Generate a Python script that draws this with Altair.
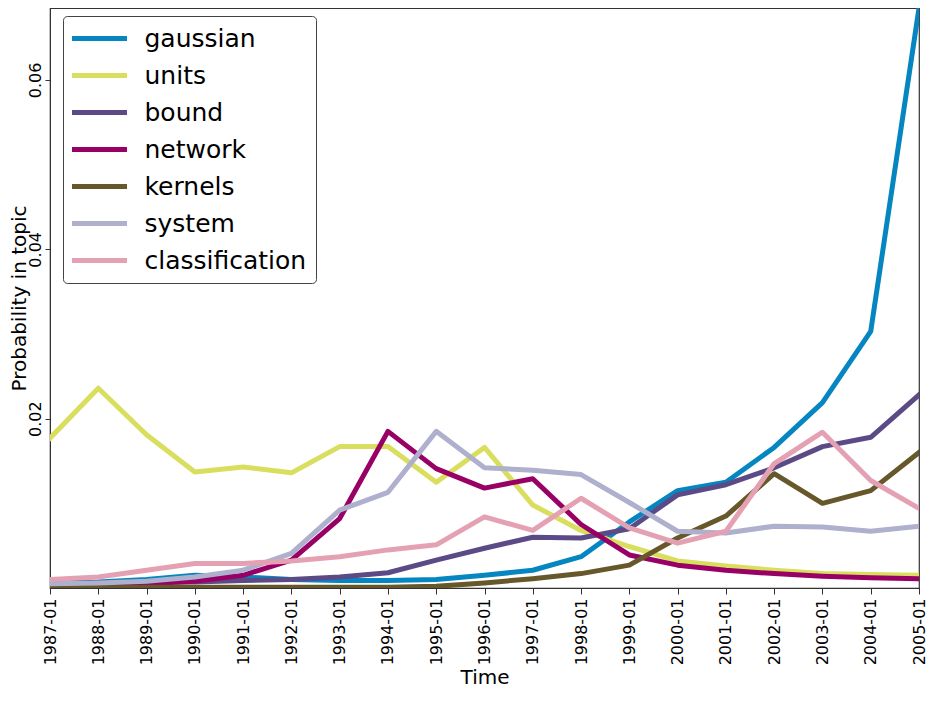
import altair as alt
import pandas as pd

years = ["1987-01", "1988-01", "1989-01", "1990-01", "1991-01", "1992-01", "1993-01",
         "1994-01", "1995-01", "1996-01", "1997-01", "1998-01", "1999-01", "2000-01",
         "2001-01", "2002-01", "2003-01", "2004-01", "2005-01"]

topics = ["gaussian", "units", "bound", "network", "kernels", "system", "classification"]
colors = ["#0586c1", "#d9de5e", "#5b4a85", "#990066", "#66582b", "#aeb0cd", "#e5a1b4"]

gaussian = [0.0006, 0.0007, 0.0010, 0.0015, 0.0013, 0.0010, 0.0009, 0.0009, 0.0010, 0.0015,
            0.0021, 0.0037, 0.0078, 0.0115, 0.0125, 0.0166, 0.0219, 0.0303, 0.0685]
units = [0.0177, 0.0236, 0.0181, 0.0137, 0.0143, 0.0136, 0.0167, 0.0167, 0.0125, 0.0166,
         0.0098, 0.0068, 0.0049, 0.0032, 0.0026, 0.0021, 0.0017, 0.0016, 0.0015]
bound = [0.0005, 0.0006, 0.0007, 0.0007, 0.0009, 0.0010, 0.0013, 0.0018, 0.0033, 0.0047,
         0.0060, 0.0059, 0.0070, 0.0110, 0.0122, 0.0142, 0.0167, 0.0178, 0.0228]
network = [0.0002, 0.0003, 0.0005, 0.0008, 0.0015, 0.0033, 0.0082, 0.0185, 0.0141, 0.0118,
           0.0129, 0.0075, 0.0039, 0.0027, 0.0021, 0.0017, 0.0014, 0.0012, 0.0011]
kernels = [0.0001, 0.0001, 0.0001, 0.0001, 0.0001, 0.0001, 0.0001, 0.0001, 0.0002, 0.0006,
           0.0011, 0.0017, 0.0027, 0.0059, 0.0085, 0.0135, 0.0100, 0.0115, 0.0160]
system = [0.0005, 0.0006, 0.0008, 0.0013, 0.0021, 0.0041, 0.0092, 0.0113, 0.0185, 0.0142,
          0.0139, 0.0134, 0.0101, 0.0067, 0.0065, 0.0073, 0.0072, 0.0067, 0.0073]
classification = [0.0010, 0.0013, 0.0021, 0.0029, 0.0029, 0.0032, 0.0037, 0.0045, 0.0051, 0.0084,
                  0.0068, 0.0106, 0.0071, 0.0053, 0.0067, 0.0147, 0.0184, 0.0127, 0.0094]

series = [gaussian, units, bound, network, kernels, system, classification]

rows = []
for t, vals in zip(topics, series):
    for yr, v in zip(years, vals):
        rows.append({"time": yr, "topic": t, "p": v})
df = pd.DataFrame(rows)

FONT = "DejaVu Sans"

chart = alt.Chart(df).mark_line(
    strokeWidth=5, clip=True, strokeJoin="round", strokeCap="square"
).encode(
    x=alt.X(
        "time:O",
        sort=years,
        scale=alt.Scale(type="point", padding=0),
        axis=alt.Axis(
            title="Time",
            labelAngle=270, labelAlign="right", labelBaseline="middle",
            labelFontSize=16, labelFont=FONT, labelColor="black",
            tickSize=6, labelPadding=4, tickColor="#333", domainColor="#333",
            titleFontSize=20, titleFontWeight="normal", titleFont=FONT, titleColor="black",
            titleY=95, titleBaseline="alphabetic", grid=False,
        ),
    ),
    y=alt.Y(
        "p:Q",
        scale=alt.Scale(domain=[0.0, 0.0685], nice=False, zero=False),
        axis=alt.Axis(
            title="Probability in topic",
            values=[0.02, 0.04, 0.06], format=".2f",
            labelAngle=270, labelAlign="center", labelBaseline="alphabetic",
            labelFontSize=16, labelFont=FONT, labelColor="black",
            tickSize=5, labelPadding=5, tickColor="#333", domainColor="#333",
            titleAngle=270, titleAlign="center", titleBaseline="alphabetic",
            titleX=-25, titleY=290, titleFontSize=20, titleFontWeight="normal",
            titleFont=FONT, titleColor="black", grid=False,
        ),
    ),
    color=alt.Color(
        "topic:N",
        sort=topics,
        scale=alt.Scale(domain=topics, range=colors),
        legend=alt.Legend(
            title=None, orient="none", legendX=13, legendY=8,
            symbolType="M-2.5,0H2.5", symbolSize=484, symbolStrokeWidth=5,
            symbolOffset=14, labelOffset=31.5,
            labelFontSize=25, labelFont=FONT, labelColor="black", labelLimit=400,
            rowPadding=10, padding=9, fillColor="white", strokeColor="#444",
            cornerRadius=4,
        ),
    ),
).properties(
    width=869,
    height=580,
    autosize=alt.AutoSizeParams(type="none"),
    padding={"left": 42, "top": 0, "right": 8, "bottom": 100},
    background="white",
).configure_view(stroke="#333", strokeWidth=1.2)

chart.save("out.html", embed_options={"renderer": "svg", "actions": False})
